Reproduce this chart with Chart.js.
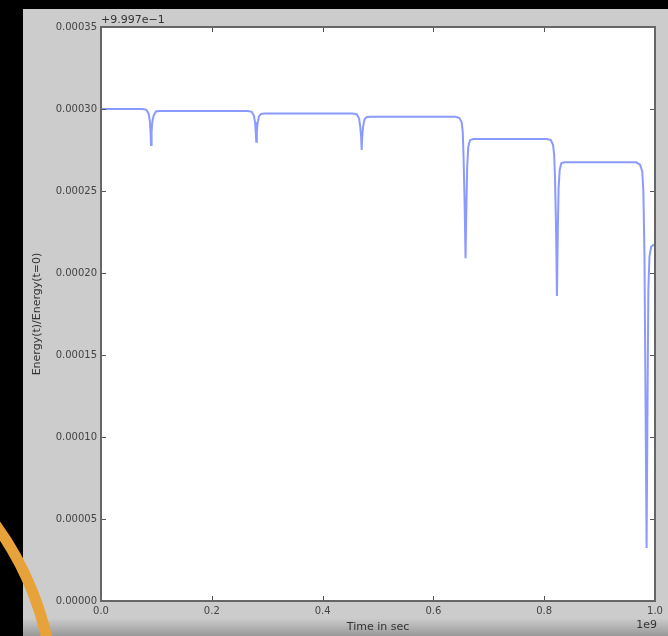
<!DOCTYPE html>
<html>
<head>
<meta charset="utf-8">
<script src="https://cdn.jsdelivr.net/npm/chart.js@4.4.1/dist/chart.umd.min.js"></script>
<style>
  html, body { margin: 0; padding: 0; background: #000; }
  #energy { display: block; filter: blur(0.6px); }
</style>
</head>
<body>
<canvas id="energy" width="668" height="636"></canvas>
<script>
// time in units of 1e9 s
var times = [
    0.000, 0.075, 0.082, 0.086, 0.088, 0.0893, 0.0903, 0.0913, 0.0925, 0.095, 0.099, 0.105,
    0.265, 0.272, 0.276, 0.278, 0.2793, 0.2803, 0.2813, 0.2825, 0.285, 0.289, 0.295,
    0.455, 0.462, 0.466, 0.468, 0.4695, 0.4705, 0.4715, 0.473, 0.4755, 0.479, 0.485,
    0.640, 0.647, 0.651, 0.653, 0.6545, 0.6565, 0.658, 0.6595, 0.661, 0.663, 0.666, 0.672,
    0.805, 0.812, 0.816, 0.818, 0.8195, 0.8215, 0.823, 0.8245, 0.826, 0.828, 0.831, 0.837,
    0.966, 0.973, 0.977, 0.979, 0.981, 0.983, 0.9848, 0.9865, 0.988, 0.990, 0.993, 0.997, 1.000
];
// Energy(t)/Energy(t=0) minus the 0.9997 offset
var energy = [
    0.000300, 0.000300, 0.0002995, 0.000297, 0.000293, 0.000287, 0.000278, 0.000286, 0.000292, 0.000296, 0.0002985, 0.0002988,
    0.0002988, 0.0002983, 0.000296, 0.000292, 0.000286, 0.000280, 0.000286, 0.000291, 0.0002955, 0.000297, 0.0002972,
    0.0002972, 0.0002967, 0.000294, 0.000289, 0.000283, 0.000275, 0.000283, 0.000289, 0.0002935, 0.000295, 0.0002953,
    0.0002953, 0.0002945, 0.000292, 0.000286, 0.000270, 0.000240, 0.000209, 0.000240, 0.000265, 0.000277, 0.000281, 0.0002817,
    0.0002817, 0.000281, 0.000278, 0.000272, 0.000258, 0.000225, 0.000186, 0.000225, 0.000252, 0.000263, 0.000267, 0.0002675,
    0.0002675, 0.000266, 0.000262, 0.000250, 0.000210, 0.000120, 0.0000323, 0.000120, 0.000190, 0.000210, 0.000216, 0.000217, 0.000217
];
var xTicks = [0.0, 0.2, 0.4, 0.6, 0.8, 1.0];
var yTicks = [0.00000, 0.00005, 0.00010, 0.00015, 0.00020, 0.00025, 0.00030, 0.00035];
var yOffsetText = "+9.997e\u22121";
var xOffsetText = "1e9";

var points = [];
for (let i = 0; i < times.length; i++) {
    points.push({x: times[i], y: energy[i]});
}

var tickFont = {family: "DejaVu Sans", size: 10};
var titleFont = {family: "DejaVu Sans", size: 11};

var figure = {
    id: 'figure',
    beforeDraw(chart) {
        const c = chart.ctx;
        const a = chart.chartArea;
        c.save();
        c.fillStyle = '#000';
        c.fillRect(0, 0, chart.width, chart.height);
        c.fillStyle = '#cccccc';
        c.fillRect(23, 9, chart.width - 23, chart.height - 9);
        var g = c.createLinearGradient(0, 618, 0, 636);
        g.addColorStop(0, 'rgba(0,0,0,0)');
        g.addColorStop(1, 'rgba(0,0,0,0.25)');
        c.fillStyle = g;
        c.fillRect(23, 618, chart.width - 23, 18);
        c.fillStyle = '#fff';
        c.fillRect(a.left, a.top, a.right - a.left, a.bottom - a.top);
        c.restore();
    },
    afterDraw(chart) {
        const c = chart.ctx;
        const a = chart.chartArea;
        const xs = chart.scales.x;
        const ys = chart.scales.y;
        c.save();
        // inward ticks on all four sides
        c.strokeStyle = '#555';
        c.lineWidth = 1;
        c.beginPath();
        xTicks.forEach(function (t) {
            const px = Math.round(xs.getPixelForValue(t)) + 0.5;
            c.moveTo(px, a.bottom); c.lineTo(px, a.bottom - 5);
            c.moveTo(px, a.top); c.lineTo(px, a.top + 5);
        });
        yTicks.forEach(function (t) {
            const py = Math.round(ys.getPixelForValue(t)) + 0.5;
            c.moveTo(a.left, py); c.lineTo(a.left + 5, py);
            c.moveTo(a.right, py); c.lineTo(a.right - 5, py);
        });
        c.stroke();
        // axes frame
        c.strokeStyle = '#666';
        c.lineWidth = 2;
        c.strokeRect(a.left, a.top, a.right - a.left, a.bottom - a.top);
        // offset texts
        c.fillStyle = '#333';
        c.font = '11px "DejaVu Sans"';
        c.textBaseline = 'alphabetic';
        c.textAlign = 'left';
        c.fillText(yOffsetText, a.left, a.top - 4);
        c.textAlign = 'right';
        c.fillText(xOffsetText, a.right + 2, 628);
        // orange ring in the corner
        c.strokeStyle = '#e8a23a';
        c.lineWidth = 11;
        c.beginPath();
        c.arc(-250, 704, 304, 0, 2 * Math.PI);
        c.stroke();
        c.restore();
    }
};

var ctx = document.getElementById('energy').getContext('2d');

var energyChart = new Chart(ctx, {
    type: 'line',
    data: {
        datasets: [{
            label: 'Energy',
            data: points,
            borderColor: 'rgba(100, 120, 255, 0.75)',
            borderWidth: 2,
            pointRadius: 0,
            tension: 0,
            fill: false
        }]
    },
    options: {
        responsive: false,
        animation: false,
        devicePixelRatio: 1,
        layout: {
            padding: {left: 23, top: 27, right: 13, bottom: 0}
        },
        plugins: {
            legend: {display: false},
            tooltip: {enabled: false}
        },
        scales: {
            x: {
                type: 'linear',
                min: 0,
                max: 1,
                grid: {display: false, drawTicks: false},
                border: {display: false},
                ticks: {
                    stepSize: 0.2,
                    padding: 4,
                    maxRotation: 0,
                    color: '#444',
                    font: tickFont,
                    callback: function (v) { return v.toFixed(1); }
                },
                title: {
                    display: true,
                    text: 'Time in sec',
                    color: '#333',
                    font: titleFont,
                    padding: {top: 0, bottom: 2}
                },
                afterFit: function (scale) { scale.height = 35; }
            },
            y: {
                min: 0,
                max: 0.00035,
                grid: {display: false, drawTicks: false},
                border: {display: false},
                ticks: {
                    stepSize: 0.00005,
                    padding: 4,
                    color: '#444',
                    font: tickFont,
                    callback: function (v) { return v.toFixed(5); }
                },
                title: {
                    display: true,
                    text: 'Energy(t)/Energy(t=0)',
                    color: '#333',
                    font: titleFont,
                    padding: {top: 8, bottom: 0}
                },
                afterFit: function (scale) { scale.width = 78; }
            }
        }
    },
    plugins: [figure]
});
</script>
</body>
</html>
